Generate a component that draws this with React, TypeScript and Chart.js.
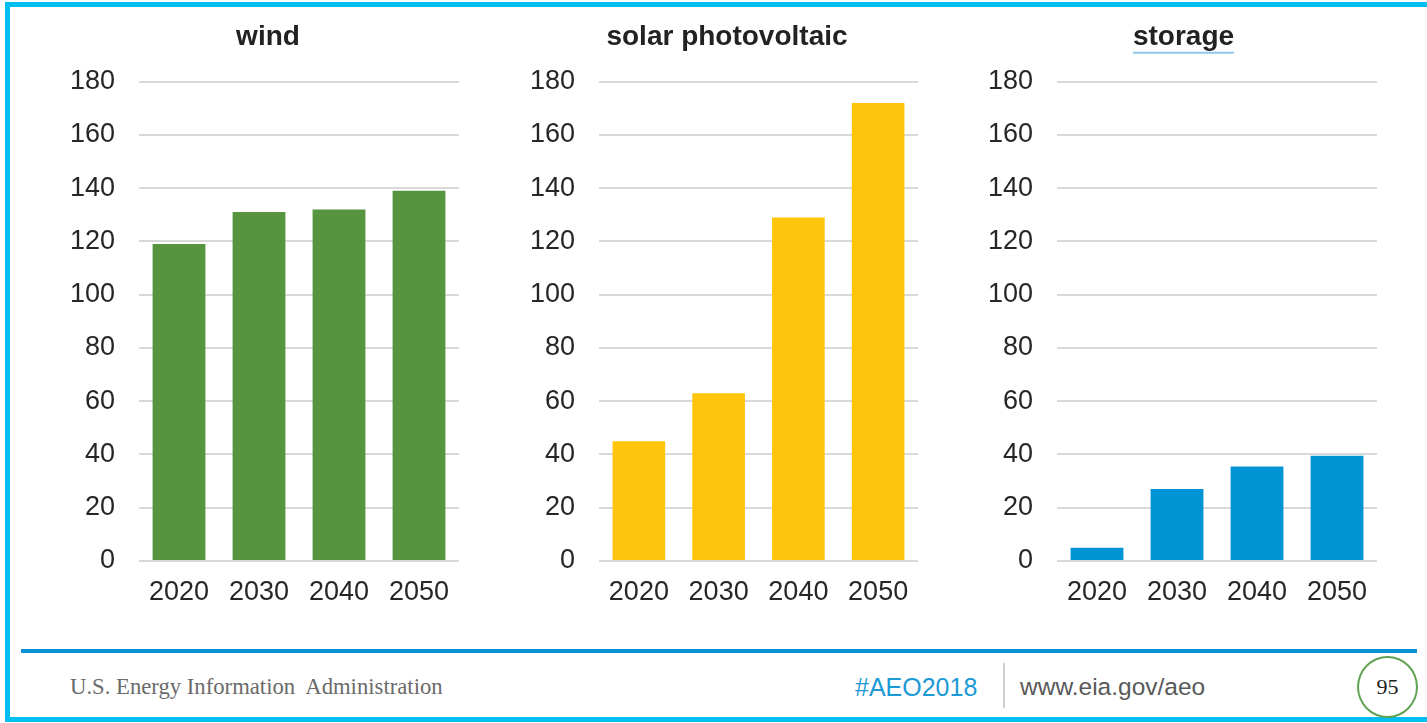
import React, { useEffect, useRef } from "react";
import { Chart, registerables } from "chart.js";

Chart.register(...registerables);

const years = ["2020", "2030", "2040", "2050"];
const windValues = [119, 131, 132, 139];
const solarValues = [45, 63, 129, 172];
const storageValues = [5, 27, 35.5, 39.5];
const yTicks = [0, 20, 40, 60, 80, 100, 120, 140, 160, 180];

const titleExtrasPlugin = {
  id: "titleExtras",
  afterLayout(chart: any, _args: any, opts: any) {
    const tb = chart.titleBlock;
    if (!tb || !opts) return;
    const s = opts.shift || 0;
    tb.left += s;
    tb.right += s;
  },
  afterDraw(chart: any, _args: any, opts: any) {
    if (!opts || !opts.underline) return;
    const tb = chart.titleBlock;
    if (!tb) return;
    const ctx = chart.ctx;
    ctx.save();
    ctx.font = "bold 28px Arial, 'Liberation Sans'";
    const w = ctx.measureText(tb.options.text).width;
    const cx = (tb.left + tb.right) / 2;
    const y = tb.top + 10 + 16.8 + 16;
    ctx.strokeStyle = "#8ec8ea";
    ctx.lineWidth = 2;
    ctx.beginPath();
    ctx.moveTo(cx - w / 2, y);
    ctx.lineTo(cx + w / 2, y);
    ctx.stroke();
    ctx.restore();
  },
};

function BarPanel(props: {
  title: string;
  values: number[];
  color: string;
  left: number;
  padLeft: number;
  padRight: number;
  shift: number;
  underline?: boolean;
}) {
  const ref = useRef<HTMLCanvasElement>(null);
  useEffect(() => {
    if (!ref.current) return;
    const chart = new Chart(ref.current, {
      type: "bar",
      data: {
        labels: years,
        datasets: [
          {
            data: props.values,
            backgroundColor: props.color,
            borderWidth: 0,
            categoryPercentage: 1,
            barPercentage: 0.66,
          },
        ],
      },
      plugins: [titleExtrasPlugin as any],
      options: {
        animation: false,
        responsive: false,
        maintainAspectRatio: false,
        layout: { padding: { left: props.padLeft, right: props.padRight, top: 0, bottom: 2 } },
        plugins: {
          legend: { display: false },
          tooltip: { enabled: false },
          title: {
            display: true,
            text: props.title,
            color: "#222222",
            font: { family: "Arial, 'Liberation Sans'", size: 28, weight: "bold" },
            padding: { top: 10, bottom: 28 },
          },
          titleExtras: { shift: props.shift, underline: !!props.underline },
        } as any,
        scales: {
          x: {
            grid: { display: false, drawTicks: false },
            border: { display: false },
            afterFit: (axis: any) => {
              axis.height = 47;
            },
            ticks: {
              color: "#262626",
              font: { family: "Arial, 'Liberation Sans'", size: 27 },
              padding: 15,
            },
          },
          y: {
            min: 0,
            max: 180,
            afterBuildTicks: (axis: any) => {
              axis.ticks = yTicks.map((v) => ({ value: v }));
            },
            afterFit: (axis: any) => {
              axis.width = 69;
            },
            grid: { color: "#d9d9d9", lineWidth: 2, drawTicks: false },
            border: { display: false },
            ticks: {
              color: "#262626",
              font: { family: "Arial, 'Liberation Sans'", size: 27 },
              padding: 24,
            },
          },
        },
      },
    });
    return () => chart.destroy();
  }, []);
  return (
    <canvas
      ref={ref}
      width={410}
      height={600}
      style={{ position: "absolute", left: props.left, top: 10, width: 410, height: 600 }}
    />
  );
}

export default function App() {
  return (
    <div
      style={{
        position: "absolute",
        left: 0,
        top: 0,
        width: 1427,
        height: 723,
        background: "#ffffff",
        overflow: "hidden",
      }}
    >
      <div
        style={{
          position: "absolute",
          left: 5,
          top: 2,
          width: 1440,
          height: 710,
          borderLeft: "5px solid #00bef2",
          borderTop: "5px solid #00bef2",
          borderBottom: "5px solid #00bef2",
        }}
      />
      <BarPanel title="wind" values={windValues} color="#56943f" left={60} padLeft={10} padRight={11} shift={3.5} />
      <BarPanel title="solar photovoltaic" values={solarValues} color="#ffc50d" left={520} padLeft={10} padRight={12} shift={3} />
      <BarPanel title="storage" values={storageValues} color="#0094d4" left={980} padLeft={8} padRight={13} shift={1} underline />
      <div
        style={{
          position: "absolute",
          left: 21,
          top: 649,
          width: 1396,
          height: 4,
          background: "#0a93d3",
        }}
      />
      <div
        style={{
          position: "absolute",
          left: 70,
          top: 674,
          lineHeight: "26px",
          fontFamily: "'Liberation Serif', 'DejaVu Serif', serif",
          fontSize: 22.7,
          color: "#6a6a6a",
          whiteSpace: "pre",
        }}
      >
        {"U.S. Energy Information  Administration"}
      </div>
      <div
        style={{
          position: "absolute",
          left: 855,
          top: 673,
          lineHeight: "28px",
          fontFamily: "Arial, 'Liberation Sans', sans-serif",
          fontSize: 25,
          color: "#1b9ad6",
        }}
      >
        #AEO2018
      </div>
      <div
        style={{
          position: "absolute",
          left: 1003,
          top: 663,
          width: 2,
          height: 45,
          background: "#cfcfcf",
        }}
      />
      <div
        style={{
          position: "absolute",
          left: 1020,
          top: 673,
          lineHeight: "28px",
          fontFamily: "Arial, 'Liberation Sans', sans-serif",
          fontSize: 24.5,
          color: "#595959",
        }}
      >
        www.eia.gov/aeo
      </div>
      <div
        style={{
          position: "absolute",
          left: 1357,
          top: 656,
          width: 57,
          height: 58,
          border: "2px solid #62a253",
          borderRadius: "50%",
          display: "flex",
          alignItems: "center",
          justifyContent: "center",
          fontFamily: "'Liberation Serif', serif",
          fontSize: 22,
          color: "#222222",
        }}
      >
        95
      </div>
    </div>
  );
}
